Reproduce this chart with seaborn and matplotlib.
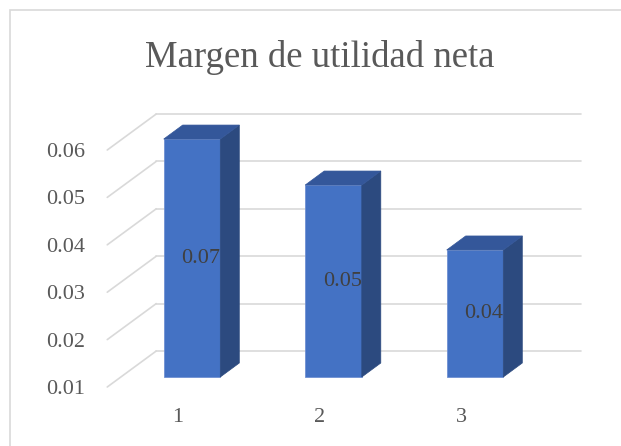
import numpy as np
import matplotlib
matplotlib.use("Agg")
import matplotlib.pyplot as plt
import seaborn as sns
from matplotlib.patches import Polygon, Rectangle
from matplotlib.transforms import ScaledTranslation, IdentityTransform
from matplotlib.lines import Line2D

# data
periods = ["1", "2", "3"]
margin = [0.0602, 0.0505, 0.0368]
label_text = ["0.07", "0.05", "0.04"]
yticks = [0.01, 0.02, 0.03, 0.04, 0.05, 0.06]
ytick_labels = ["0.01", "0.02", "0.03", "0.04", "0.05", "0.06"]

sns.set_theme(style="white")
plt.rcParams['font.family'] = ['Liberation Serif', 'DejaVu Serif']

W, H, DPI = 621, 446, 100
fig = plt.figure(figsize=(W / DPI, H / DPI), dpi=DPI)
fig.patch.set_facecolor("white")

# axes = the plane of the bar fronts
ax = fig.add_axes([121.25 / W, 69 / H, 424.5 / W, 237 / H])
ax.set_facecolor("none")

front_col = "#4472C4"
side_col = "#2C4A7F"
top_col = "#34579A"
grid_col = "#D9D9D9"
text_col = "#595959"

sns.barplot(x=periods, y=margin, color=front_col, width=0.4, saturation=1,
            edgecolor="#6F90D2", linewidth=0.6, ax=ax, zorder=3)
ax.set_xlim(-0.5, 2.5)
ax.set_ylim(0.01, 0.06)
for s in ax.spines.values():
    s.set_visible(False)

def shift(dx, dy):
    return ax.transData + ScaledTranslation(dx / DPI, dy / DPI, fig.dpi_scale_trans)

# floor depth: front plane and back wall relative to bar plane (pixels)
FRONT = (-14, -10)
BACK = (35, 26)
DEPTH = (19, 14)

# back wall gridlines + left wall diagonals
for v in yticks:
    ax.plot([-0.5, 2.5], [v, v], color=grid_col, lw=1.2, transform=shift(*BACK),
            zorder=0, clip_on=False)
    p0 = shift(*FRONT).transform((-0.5, v))
    p1 = shift(*BACK).transform((-0.5, v))
    fig.add_artist(Line2D([p0[0], p1[0]], [p0[1], p1[1]], color=grid_col, lw=1.2,
                          transform=IdentityTransform(), zorder=0))

# bars start at the floor value, then side and top faces
for i, patch in enumerate(ax.patches):
    h = patch.get_height()
    patch.set_y(yticks[0])
    patch.set_height(h - yticks[0])
    patch.set_clip_on(False)
    x0 = patch.get_x()
    x1 = x0 + patch.get_width()
    X0, Y0 = ax.transData.transform((x0, yticks[0]))
    X1, Y1 = ax.transData.transform((x1, h))
    dx, dy = DEPTH
    side = Polygon([(X1, Y0), (X1, Y1), (X1 + dx, Y1 + dy), (X1 + dx, Y0 + dy)],
                   closed=True, facecolor=side_col, edgecolor=side_col, lw=0.5,
                   transform=IdentityTransform(), zorder=4)
    top = Polygon([(X0, Y1), (X1, Y1), (X1 + dx, Y1 + dy), (X0 + dx, Y1 + dy)],
                  closed=True, facecolor=top_col, edgecolor=top_col, lw=0.5,
                  transform=IdentityTransform(), zorder=4)
    fig.add_artist(side)
    fig.add_artist(top)
    ax.text(i, (h + yticks[0]) / 2, label_text[i], transform=shift(9, 0),
            ha="center", va="center", fontsize=16, color="#404040", zorder=5)

# ticks sit on the front plane
ax.set_yticks(yticks)
ax.set_yticklabels(ytick_labels)
ax.tick_params(axis="y", length=0, pad=26, labelsize=16, labelcolor=text_col)
ax.tick_params(axis="x", length=0, pad=22, labelsize=16, labelcolor=text_col)
for lab in ax.get_yticklabels():
    lab.set_transform(lab.get_transform() + ScaledTranslation(0, FRONT[1] / DPI, fig.dpi_scale_trans))
for lab in ax.get_xticklabels():
    lab.set_transform(lab.get_transform() + ScaledTranslation(FRONT[0] / DPI, 0, fig.dpi_scale_trans))
ax.set_xlabel("")
ax.set_ylabel("")

fig.text(320 / W, 1 - 67 / H, "Margen de utilidad neta", ha="center", va="baseline",
         fontsize=26.5, color=text_col)

# chart area border
fig.add_artist(Rectangle((10 / W, -0.1), 1.0, 1.1 - 10 / H, transform=fig.transFigure,
                         fill=False, edgecolor=grid_col, lw=1.2))

fig.savefig("out.png", dpi=DPI)
